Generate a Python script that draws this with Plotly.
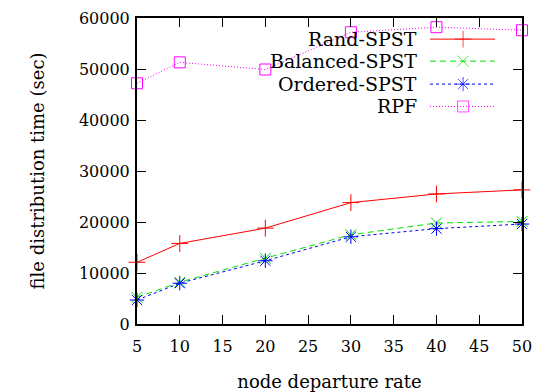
import plotly.graph_objects as go

rates = [5, 10, 20, 30, 40, 50]
rand_spst = [12100, 15800, 18800, 23800, 25500, 26300]
balanced_spst = [5200, 8200, 12900, 17500, 19800, 20100]
ordered_spst = [4700, 8000, 12400, 17100, 18700, 19600]
rpf = [47200, 51300, 49900, 57200, 58200, 57600]

names = ["Rand-SPST", "Balanced-SPST", "Ordered-SPST", "RPF"]
colors = ["#ff0000", "#00e000", "#0000ff", "#ff00ff"]
dashes = ["solid", "6px,4px", "3px,3px", "1px,2px"]
symbols = ["cross-thin-open", "x-thin-open", "asterisk-open", "square-open"]
sizes = [12, 11, 12, 11]
series = [rand_spst, balanced_spst, ordered_spst, rpf]

FONT = "DejaVu Serif"

fig = go.Figure()
for nm, vals, c, d, s, sz in zip(names, series, colors, dashes, symbols, sizes):
    fig.add_trace(go.Scatter(
        x=rates, y=vals, mode="lines+markers", name=nm,
        line=dict(color=c, width=1, dash=d),
        marker=dict(symbol=s, size=sz, color=c, line=dict(color=c, width=1)),
        cliponaxis=False, showlegend=False))

# custom gnuplot-style legend (text right-aligned, sample on the right)
leg_y = [0.931, 0.859, 0.784, 0.711]
for nm, c, d, s, sz, ly in zip(names, colors, dashes, symbols, sizes, leg_y):
    fig.add_trace(go.Scatter(
        x=[0.761, 0.847, 0.930], y=[ly, ly, ly], xaxis="x2", yaxis="y2",
        mode="lines+markers", line=dict(color=c, width=1, dash=d),
        marker=dict(symbol=s, size=[0, sz, 0], color=c, line=dict(color=c, width=1)),
        showlegend=False, hoverinfo="skip", cliponaxis=False))
    fig.add_annotation(x=0.733, y=ly, xref="x2", yref="y2", text=nm,
                       showarrow=False, xanchor="right", yanchor="middle",
                       font=dict(family=FONT, size=19, color="black"))

axis_common = dict(showgrid=False, zeroline=False, showline=True, linecolor="black",
                   linewidth=2, mirror="ticks", ticks="inside", ticklen=9,
                   tickcolor="black", tickwidth=1, automargin=False,
                   tickfont=dict(family=FONT, size=16, color="black"))

fig.update_layout(
    width=533, height=392,
    margin=dict(l=137, r=11, t=18, b=68),
    paper_bgcolor="white", plot_bgcolor="white",
    font=dict(family=FONT, color="black"),
    xaxis=dict(range=[5, 50], tickvals=[5, 10, 15, 20, 25, 30, 35, 40, 45, 50],
               ticklabelstandoff=7,
               title=dict(text="node departure rate", standoff=20,
                          font=dict(family=FONT, size=18, color="black")),
               **axis_common),
    yaxis=dict(range=[0, 60000], tickvals=[0, 10000, 20000, 30000, 40000, 50000, 60000],
               tickformat="d", ticklabelstandoff=2,
               title=dict(text="file distribution time (sec)", standoff=30,
                          font=dict(family=FONT, size=18, color="black")),
               **axis_common),
    xaxis2=dict(range=[0, 1], overlaying="x", visible=False, fixedrange=True),
    yaxis2=dict(range=[0, 1], overlaying="y", visible=False, fixedrange=True),
)

fig.write_html("out.html")
